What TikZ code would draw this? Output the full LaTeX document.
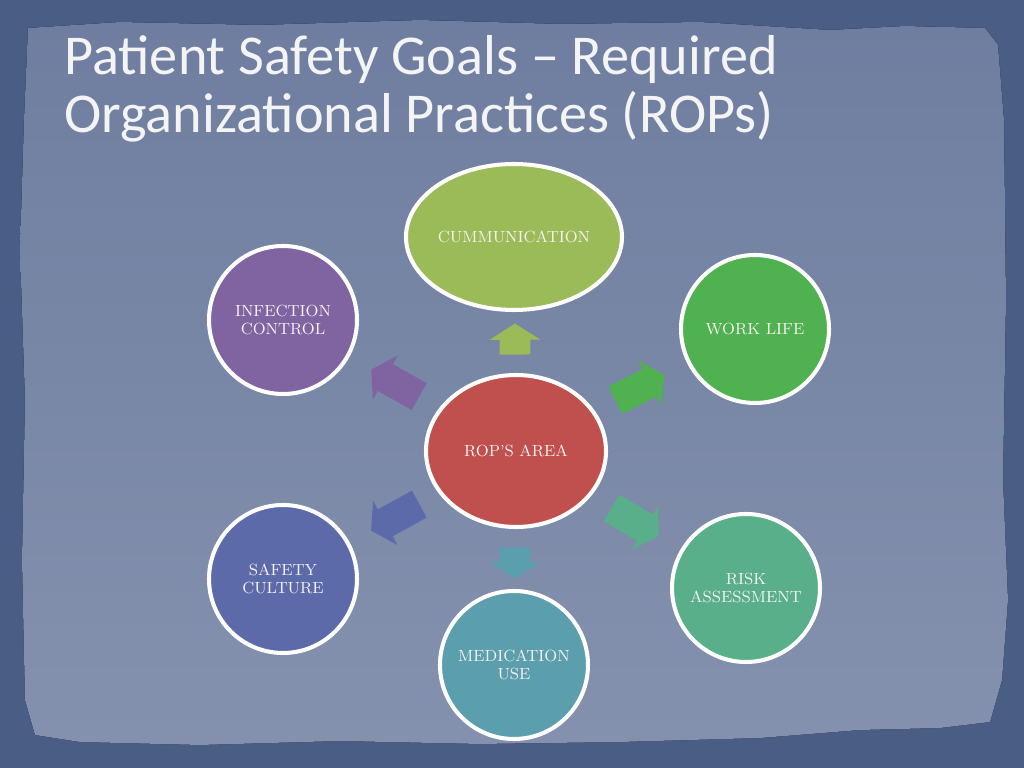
\documentclass[tikz,border=0pt]{standalone}
\usepackage{fontspec}
\newfontfamily\titlefont{Carlito}
\usetikzlibrary{shapes.geometric,shapes.arrows,positioning}

\definecolor{deskblue}{HTML}{4A5D85}
\definecolor{paperhi}{HTML}{6F7EA0}
\definecolor{paperlo}{HTML}{8491AE}
\definecolor{titlewhite}{HTML}{F4F4F4}
\definecolor{labeltext}{HTML}{F8F2F2}
\definecolor{ropred}{HTML}{C0504D}
\definecolor{commgreen}{HTML}{9BBB59}
\definecolor{infpurple}{HTML}{8064A2}
\definecolor{workgreen}{HTML}{4FB14F}
\definecolor{riskgreen}{HTML}{58AF8A}
\definecolor{medteal}{HTML}{5B9EAD}
\definecolor{safeblue}{HTML}{5D6AAA}

\begin{document}
\begin{tikzpicture}[x=0.2mm, y=-0.2mm,
  every node/.style={align=center},
  area/.style={draw=white, line width=2.3pt, text=labeltext, font=\fontsize{9.2}{10.3}\selectfont, inner sep=0pt},
  disc/.style={area, circle, minimum size=29.6mm},
  oval/.style={area, ellipse},
  titleline/.style={anchor=base west, inner sep=0pt, text=titlewhite, font=\titlefont\fontsize{32}{36}\selectfont},
  blockarrow/.style={single arrow, draw=none, inner xsep=0pt, inner ysep=3mm, minimum width=0pt,
    single arrow head extend=2mm, single arrow tip angle=115, sloped, allow upside down}]

%background and torn paper
    \useasboundingbox (0,0) rectangle (1024,768);
    \fill[deskblue] (0,0) rectangle (1024,768);
    \fill[top color=paperhi, bottom color=paperlo]
      (28,28) -- (120,22) -- (260,25) -- (420,20) -- (560,24) -- (700,22) -- (830,30) -- (905,26)
      -- (985,28) -- (998,45) -- (1004,120) -- (1006,300) -- (1003,480) -- (1008,600) -- (1002,680)
      -- (990,722) -- (940,728) -- (860,730) -- (760,738) -- (620,742) -- (480,744) -- (340,741)
      -- (200,745) -- (80,742) -- (35,735) -- (25,700) -- (22,560) -- (25,400) -- (20,250) -- (24,120) -- cycle;

%title
    \node[titleline] (title1) at (64,75) {Patient Safety Goals – Required};
    \node[titleline] (title2) at (64,133) {Organizational Practices (ROPs)};

%areas
    \node[oval, fill=ropred, minimum width=36mm, minimum height=30.4mm] (rop) at (516,451) {ROP’S AREA};
    \node[oval, fill=commgreen, minimum width=43.2mm, minimum height=29.2mm] (comm) at (514,237) {CUMMUNICATION};
    \node[disc, fill=infpurple] (inf) at (283,320) {INFECTION\\CONTROL};
    \node[disc, fill=workgreen] (work) at (755,329) {WORK LIFE};
    \node[disc, fill=safeblue] (safe) at (283,579) {SAFETY\\CULTURE};
    \node[disc, fill=riskgreen] (risk) at (746,588) {RISK\\ASSESSMENT};
    \node[disc, fill=medteal] (med) at (514,665) {MEDICATION\\USE};

%arrows out of the centre
    \foreach \to/\col/\len in {comm/commgreen/6.2mm, work/workgreen/11mm, risk/riskgreen/11mm,
                               med/medteal/6.2mm, safe/safeblue/11mm, inf/infpurple/11mm}
      \path (rop.center) -- (\to.center) node[blockarrow, midway, fill=\col, minimum height=\len] {};

\end{tikzpicture}
\end{document}
